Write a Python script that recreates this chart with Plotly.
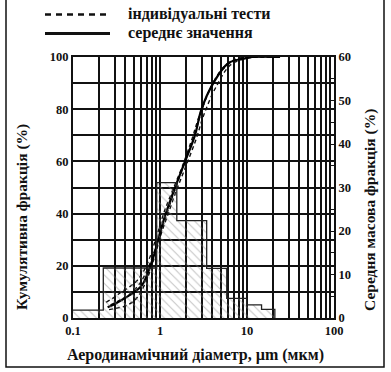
import plotly.graph_objects as go

# ---------------- data ----------------
# histogram: mean mass fraction (%) per size bin (right axis)
bin_edges = [0.1, 0.223, 0.916, 1.56, 3.44, 5.85, 9.9, 14.7, 20.9]
bin_mass = [1.8, 11.5, 31.1, 22.4, 11.4, 4.5, 3.0, 2.0]

# mean cumulative fraction (%) (left axis)
mean_d = [0.25, 0.3, 0.35, 0.43, 0.52, 0.62, 0.7, 0.77, 0.87, 0.95, 1.05, 1.14,
          1.49, 1.94, 2.52, 3.0, 4.1, 6.1, 9.5, 11.5, 24]
mean_cum = [4.1, 5.3, 6.6, 8.4, 10.2, 12.5, 16, 19.7, 25, 30, 35, 39,
            50, 60, 70, 80, 90, 97.6, 99.5, 100, 100]

# individual tests
test1_d = [0.24, 0.3, 0.36, 0.45, 0.55, 0.65, 0.75, 0.85, 0.95, 1.1, 1.4, 1.8,
           2.3, 2.8, 3.8, 5.5, 8, 12, 22]
test1_cum = [6, 8, 10, 12, 14.5, 18, 22.5, 28, 33, 40, 49, 58,
             68, 77, 88, 96.5, 99.5, 100, 100]
test2_d = [0.26, 0.32, 0.4, 0.5, 0.58, 0.66, 0.75, 0.85, 0.95, 1.05, 1.2, 1.55,
           2.0, 2.6, 3.2, 4.4, 6.5, 10, 15, 25]
test2_cum = [3.2, 3.8, 4.6, 6.5, 9, 12.5, 17, 22.5, 28, 33, 38.5, 49,
             58.5, 68.5, 78, 88.5, 97, 99.5, 100, 100]
test3_d = [0.27, 0.33, 0.4, 0.48, 0.58, 0.68, 0.8, 0.92, 1.05, 1.2, 1.5, 1.9,
           2.4, 2.9, 3.6, 5, 7.5, 12, 24]
test3_cum = [5, 6.5, 8, 10, 13, 17, 22.5, 28.5, 34, 40, 49.5, 59,
             68.5, 77.5, 86.5, 94.5, 99, 100, 100]
tests = [(test1_d, test1_cum), (test2_d, test2_cum), (test3_d, test3_cum)]

x_tickvals = [0.1, 1, 10, 100]
x_ticktext = ["0.1", "1", "10", "100"]
x_minor = [m * 10 ** e for e in (-1, 0, 1) for m in range(2, 10)]

legend_labels = ["індивідуальні тести", "середнє значення"]
x_title = "Аеродинамічний діаметр, µm (мкм)"
y_title = "Кумулятивна фракція (%)"
y2_title = "Середня масова фракція (%)"

# ---------------- layout geometry (window pixels) ----------------
W, H = 391, 372
L, R, T, B = 73, 334, 57, 318


def px(x):
    return (x - L) / (R - L)


def py(y):
    return (B - y) / (B - T)


FONT = "Liberation Serif"

fig = go.Figure()

# histogram as step outline with hatched fill
step_x = list(bin_edges)
step_y = list(bin_mass) + [0]
fig.add_trace(go.Scatter(
    x=step_x, y=step_y, yaxis="y2", mode="lines", line_shape="hv",
    line=dict(color="#222", width=1.3),
    fill="tozeroy", fillcolor="rgba(0,0,0,0)",
    fillpattern=dict(shape="\\", fgcolor="#8a8a8a", bgcolor="rgba(0,0,0,0)",
                     size=6, solidity=0.18),
    showlegend=False, hoverinfo="skip"))

for d, c in tests:
    fig.add_trace(go.Scatter(
        x=d, y=c, mode="lines", line_shape="spline",
        line=dict(color="#111", width=1.4, dash="4px,3px"),
        showlegend=False))

fig.add_trace(go.Scatter(
    x=mean_d, y=mean_cum, mode="lines", line_shape="spline",
    line=dict(color="#000", width=2.2), showlegend=False))

grid = dict(showgrid=True, gridcolor="#111", gridwidth=2)

fig.update_layout(
    width=W, height=H,
    margin=dict(l=L, r=W - R, t=T, b=H - B),
    paper_bgcolor="white", plot_bgcolor="white",
    font=dict(family=FONT, size=12, color="#111", weight="bold"),
    showlegend=False,
    xaxis=dict(type="log", range=[-1, 2], tickvals=x_tickvals, ticktext=x_ticktext,
               ticks="", showline=True, linecolor="#111", linewidth=2, mirror=True,
               minor=dict(tickvals=x_minor, ticks="", **grid), **grid,
               tickfont=dict(size=12.5)),
    yaxis=dict(range=[0, 100], dtick=20, ticks="inside", ticklen=3, tickcolor="#111",
               showline=True, linecolor="#111", linewidth=2, zeroline=False,
               minor=dict(dtick=10, ticks="inside", ticklen=3, tickcolor="#111", **grid),
               **grid, tickfont=dict(size=12.5)),
    yaxis2=dict(range=[0, 60], dtick=10, overlaying="y", side="right",
                ticks="inside", ticklen=3, tickcolor="#111", showgrid=False,
                zeroline=False, showline=True, linecolor="#111", linewidth=2,
                minor=dict(dtick=5, ticks="inside", ticklen=3, tickcolor="#111"),
                tickfont=dict(size=12.5)),
)

# legend samples and labels
fig.add_shape(type="line", xref="paper", yref="paper",
              x0=px(45), x1=px(110), y0=py(14.5), y1=py(14.5),
              line=dict(color="#111", width=2.6, dash="6px,5px"))
fig.add_shape(type="line", xref="paper", yref="paper",
              x0=px(45), x1=px(110), y0=py(33.5), y1=py(33.5),
              line=dict(color="#111", width=3))
for lab, yy in zip(legend_labels, [14.5, 33.5]):
    fig.add_annotation(text=lab, xref="paper", yref="paper", x=px(126), y=py(yy),
                       xanchor="left", yanchor="middle", showarrow=False,
                       font=dict(family=FONT, size=16, weight="bold", color="#111"))

# axis titles
fig.add_annotation(text=x_title, xref="paper", yref="paper", x=px(195), y=py(355),
                   xanchor="center", yanchor="middle", showarrow=False,
                   font=dict(family=FONT, size=16, weight="bold", color="#111"))
fig.add_annotation(text=y_title, xref="paper", yref="paper", x=px(22), y=py(217),
                   xanchor="center", yanchor="middle", showarrow=False, textangle=-90,
                   font=dict(family=FONT, size=15.5, weight="bold", color="#111"))
fig.add_annotation(text=y2_title, xref="paper", yref="paper", x=px(370), y=py(210),
                   xanchor="center", yanchor="middle", showarrow=False, textangle=-90,
                   font=dict(family=FONT, size=15.5, weight="bold", color="#111"))

# outer frame
fig.add_shape(type="rect", xref="paper", yref="paper",
              x0=px(6), x1=px(384), y0=py(367), y1=py(-5),
              line=dict(color="#111", width=1.5), layer="below")

# remove the default 8px page margin so the 391x372 figure fills the window
fig.write_html("out.html",
               config={"displayModeBar": False},
               post_script="document.body.style.margin='0';"
                           "document.body.style.overflow='hidden';")
